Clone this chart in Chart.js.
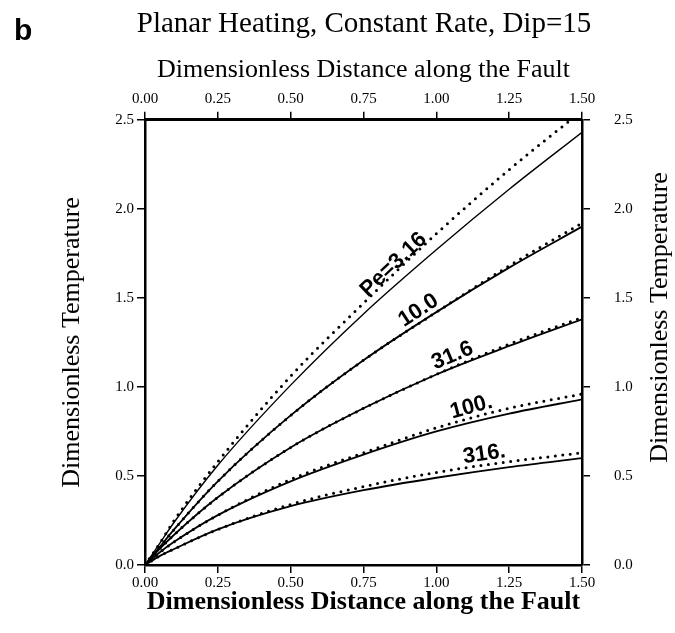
<!DOCTYPE html>
<html>
<head>
<meta charset="utf-8">
<script src="https://cdn.jsdelivr.net/npm/chart.js@4/dist/chart.umd.min.js"></script>
<style>
  body { margin: 0; background: #fff; }
</style>
</head>
<body>
<canvas id="grafica" width="675" height="633"></canvas>
<script>
const distancia = [0, 0.05, 0.1, 0.25, 0.5, 0.75, 1.0, 1.25, 1.5];

const solidoPe3 = [0, 0.12, 0.24, 0.56, 1.01, 1.41, 1.77, 2.11, 2.43];
const puntosPe3 = [0, 0.12, 0.25, 0.58, 1.06, 1.47, 1.86, 2.22, 2.55];
const solidoPe10 = [0, 0.10, 0.20, 0.47, 0.84, 1.15, 1.42, 1.67, 1.90];
const puntosPe10 = [0, 0.10, 0.20, 0.47, 0.84, 1.15, 1.42, 1.68, 1.92];
const solidoPe31 = [0, 0.09, 0.17, 0.38, 0.66, 0.88, 1.07, 1.23, 1.38];
const puntosPe31 = [0, 0.09, 0.17, 0.38, 0.66, 0.88, 1.07, 1.24, 1.39];
const solidoPe100 = [0, 0.07, 0.13, 0.28, 0.47, 0.62, 0.75, 0.85, 0.93];
const puntosPe100 = [0, 0.07, 0.13, 0.28, 0.48, 0.63, 0.77, 0.88, 0.96];
const solidoPe316 = [0, 0.05, 0.09, 0.20, 0.33, 0.42, 0.49, 0.55, 0.60];
const puntosPe316 = [0, 0.05, 0.09, 0.20, 0.34, 0.44, 0.52, 0.58, 0.63];

const nombres = ['Pe=3.16', '10.0', '31.6', '100.', '316.'];
const ticksX = [0, 0.25, 0.5, 0.75, 1.0, 1.25, 1.5];
const ticksY = [0, 0.5, 1.0, 1.5, 2.0, 2.5];

const solidas = [solidoPe3, solidoPe10, solidoPe31, solidoPe100, solidoPe316];
const punteadas = [puntosPe3, puntosPe10, puntosPe31, puntosPe100, puntosPe316];

const aPuntos = serie => distancia.map((x, i) => ({ x: x, y: serie[i] }));

function interpolar(serie, xv) {
    for (let i = 1; i < distancia.length; i++) {
        if (xv <= distancia[i]) {
            const t = (xv - distancia[i - 1]) / (distancia[i] - distancia[i - 1]);
            return serie[i - 1] + t * (serie[i] - serie[i - 1]);
        }
    }
    return serie[serie.length - 1];
}

const datasets = [];
solidas.forEach((serie, i) => {
    datasets.push({
        label: nombres[i],
        data: aPuntos(serie),
        borderColor: '#000',
        borderWidth: i === 0 ? 1.4 : 1.8,
        pointRadius: 0,
        cubicInterpolationMode: 'monotone'
    });
});
punteadas.forEach((serie, i) => {
    datasets.push({
        label: nombres[i] + ' (punteada)',
        data: aPuntos(serie),
        borderColor: '#000',
        borderWidth: 3,
        borderDash: [0, 7.5],
        borderCapStyle: 'round',
        pointRadius: 0,
        cubicInterpolationMode: 'monotone'
    });
});

// etiquetas de Pe sobre cada curva
const etiquetas = {
    id: 'etiquetas',
    afterDatasetsDraw(chart) {
        const { ctx, scales: { x, y } } = chart;
        const sitios = [0.87, 0.96, 1.07, 1.13, 1.17];
        const alto = [1, 5, 5, 5, 5];
        nombres.forEach((txt, i) => {
            const serie = punteadas[i];
            const xv = sitios[i];
            const px = x.getPixelForValue(xv);
            const py = y.getPixelForValue(interpolar(serie, xv));
            const px2 = x.getPixelForValue(xv + 0.05);
            const py2 = y.getPixelForValue(interpolar(serie, xv + 0.05));
            const ang = Math.atan2(py2 - py, px2 - px);
            ctx.save();
            ctx.translate(px, py);
            ctx.rotate(ang);
            ctx.font = 'bold 22px "Liberation Sans", Arial, sans-serif';
            ctx.fillStyle = '#000';
            ctx.textAlign = 'center';
            ctx.textBaseline = 'alphabetic';
            ctx.fillText(txt, 0, -alto[i]);
            ctx.restore();
        });
    }
};

// letra del panel y titulo del eje derecho
const extras = {
    id: 'extras',
    afterDraw(chart) {
        const { ctx, chartArea } = chart;
        ctx.save();
        ctx.fillStyle = '#000';
        ctx.font = 'bold 30px "Liberation Sans", Arial, sans-serif';
        ctx.textAlign = 'left';
        ctx.textBaseline = 'middle';
        ctx.fillText('b', 14, 32);

        ctx.translate(660, (chartArea.top + chartArea.bottom) / 2 - 25);
        ctx.rotate(-Math.PI / 2);
        ctx.font = '26px "Liberation Serif", "Times New Roman", serif';
        ctx.textAlign = 'center';
        ctx.fillText('Dimensionless Temperature', 0, 0);
        ctx.restore();
    }
};

const serif = '"Liberation Serif", "Times New Roman", serif';
const fuenteTick = { family: serif, size: 15 };
const rejilla = { drawOnChartArea: false, drawTicks: true, tickLength: 8, color: '#000', lineWidth: 1.5 };
const borde = { display: true, color: '#000', width: 2.5 };

new Chart(document.querySelector('#grafica'), {
    type: 'line',
    data: { datasets: datasets },
    options: {
        responsive: false,
        animation: false,
        layout: { padding: { left: 53, right: 0, top: 0, bottom: 11 } },
        plugins: {
            legend: { display: false },
            tooltip: { enabled: false },
            title: {
                display: true,
                text: 'Planar Heating, Constant Rate, Dip=15',
                color: '#000',
                font: { family: serif, size: 29, weight: 'normal' },
                padding: { top: 7, bottom: 9 }
            }
        },
        scales: {
            x: {
                type: 'linear',
                position: 'bottom',
                min: 0, max: 1.5,
                afterBuildTicks: s => { s.ticks = ticksX.map(v => ({ value: v })); },
                afterFit: s => { s.height = 57; },
                ticks: { color: '#000', font: fuenteTick, padding: 1, maxRotation: 0, callback: v => v.toFixed(2) },
                grid: rejilla,
                border: borde,
                title: {
                    display: true,
                    text: 'Dimensionless Distance along the Fault',
                    color: '#000',
                    font: { family: serif, size: 26, weight: 'bold' },
                    padding: { top: 4, bottom: 4 }
                }
            },
            x2: {
                type: 'linear',
                position: 'top',
                min: 0, max: 1.5,
                afterBuildTicks: s => { s.ticks = ticksX.map(v => ({ value: v })); },
                afterFit: s => { s.height = 69; },
                ticks: { color: '#000', font: fuenteTick, padding: 4, maxRotation: 0, callback: v => v.toFixed(2) },
                grid: rejilla,
                border: { display: true, color: '#000', width: 3 },
                title: {
                    display: true,
                    text: 'Dimensionless Distance along the Fault',
                    color: '#000',
                    font: { family: serif, size: 26 },
                    padding: { top: 4, bottom: 4 }
                }
            },
            y: {
                type: 'linear',
                position: 'left',
                min: 0, max: 2.5,
                afterBuildTicks: s => { s.ticks = ticksY.map(v => ({ value: v })); },
                afterFit: s => { s.width = 92; },
                ticks: { color: '#000', font: fuenteTick, padding: 3, callback: v => v.toFixed(1) },
                grid: rejilla,
                border: borde,
                title: {
                    display: true,
                    text: 'Dimensionless Temperature',
                    color: '#000',
                    font: { family: serif, size: 26 },
                    padding: { top: 4, bottom: 4 }
                }
            },
            y2: {
                type: 'linear',
                position: 'right',
                min: 0, max: 2.5,
                afterBuildTicks: s => { s.ticks = ticksY.map(v => ({ value: v })); },
                afterFit: s => { s.width = 93; },
                ticks: { color: '#000', font: fuenteTick, padding: 24, callback: v => v.toFixed(1) },
                grid: rejilla,
                border: borde
            }
        }
    },
    plugins: [etiquetas, extras]
});
</script>
</body>
</html>
